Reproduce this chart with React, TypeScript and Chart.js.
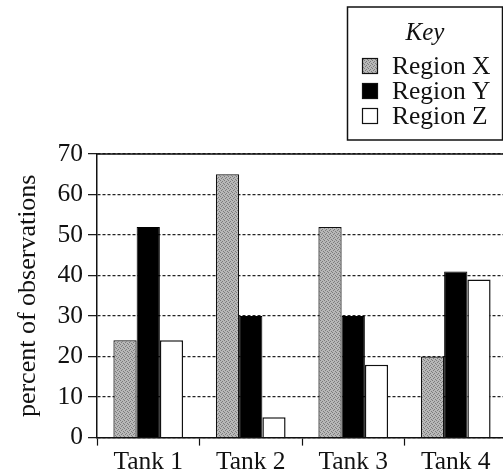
import React, { useEffect, useRef } from "react";
import { Chart, registerables } from "chart.js";

Chart.register(...registerables);

const categories = ["Tank 1", "Tank 2", "Tank 3", "Tank 4"];
const seriesNames = ["Region X", "Region Y", "Region Z"];
const regionX = [24, 65, 52, 20];
const regionY = [52, 30, 30, 41];
const regionZ = [24, 5, 18, 39];
const yMin = 0;
const yMax = 70;
const yStep = 10;
const legendTitle = "Key";
const yTitle = "percent of observations";

const FONT = '"Liberation Serif", "Times New Roman", serif';
const INK = "#111111";

function makeStipple(ctx: CanvasRenderingContext2D): CanvasPattern | string {
  const c = document.createElement("canvas");
  c.width = 4;
  c.height = 4;
  const g = c.getContext("2d");
  if (!g) return "#a8a8a8";
  g.fillStyle = "#b8b8b8";
  g.fillRect(0, 0, 4, 4);
  g.fillStyle = "#7c7c7c";
  const dots = [
    [0, 0],
    [2, 1],
    [1, 2],
    [3, 3],
  ];
  dots.forEach(([x, y]) => g.fillRect(x, y, 1, 1));
  return ctx.createPattern(c, "repeat") || "#a8a8a8";
}

const keyPlugin = {
  id: "keyBox",
  afterDraw(chart: any) {
    const ctx: CanvasRenderingContext2D = chart.ctx;
    const { left, right, top } = chart.chartArea;
    ctx.save();
    ctx.setLineDash([]);
    ctx.strokeStyle = INK;
    ctx.lineWidth = 1.5;
    // top frame line of plot
    ctx.beginPath();
    ctx.moveTo(left, top);
    ctx.lineTo(right, top);
    ctx.stroke();

    // key box
    const bx = 347.5;
    const by = 7;
    const bw = 155;
    const bh = 133;
    ctx.strokeRect(bx, by, bw, bh);

    ctx.fillStyle = INK;
    ctx.textBaseline = "middle";
    ctx.textAlign = "center";
    ctx.font = `italic 25px ${FONT}`;
    ctx.fillText(legendTitle, bx + bw / 2, by + 26);

    ctx.textAlign = "left";
    ctx.font = `25.5px ${FONT}`;
    const ds = chart.data.datasets;
    ds.forEach((d: any, i: number) => {
      const cy = by + 59 + i * 25;
      const sx = 362;
      const s = 16;
      ctx.fillStyle = d.backgroundColor;
      ctx.fillRect(sx, cy - s / 2, s, s);
      ctx.lineWidth = 1.2;
      ctx.strokeStyle = INK;
      ctx.strokeRect(sx + 0.5, cy - s / 2 + 0.5, s - 1, s - 1);
      ctx.fillStyle = INK;
      ctx.fillText(d.label, 392, cy + 1);
    });
    ctx.restore();
  },
};

export default function App() {
  const ref = useRef<HTMLCanvasElement>(null);

  useEffect(() => {
    const canvas = ref.current;
    if (!canvas) return;
    const ctx = canvas.getContext("2d");
    if (!ctx) return;
    const stipple = makeStipple(ctx);

    const chart = new Chart(canvas, {
      type: "bar",
      data: {
        labels: categories,
        datasets: [
          {
            label: seriesNames[0],
            data: regionX,
            backgroundColor: stipple as any,
            borderColor: INK,
            borderWidth: 1.2,
          },
          {
            label: seriesNames[1],
            data: regionY,
            backgroundColor: "#000000",
            borderColor: "#000000",
            borderWidth: 1,
          },
          {
            label: seriesNames[2],
            data: regionZ,
            backgroundColor: "#ffffff",
            borderColor: INK,
            borderWidth: 1.5,
          },
        ],
      },
      options: {
        responsive: false,
        animation: false,
        devicePixelRatio: 1,
        categoryPercentage: 0.68,
        barPercentage: 1,
        layout: { padding: { top: 154, right: 13, bottom: 0, left: 0 } },
        plugins: {
          legend: { display: false },
          tooltip: { enabled: false },
          title: { display: false },
        },
        scales: {
          x: {
            afterFit: (s: any) => {
              s.height = 36.4;
            },
            grid: {
              display: true,
              drawOnChartArea: false,
              offset: true,
              tickLength: 8,
              color: INK,
              tickColor: INK,
              tickWidth: 1.2,
              tickBorderDash: [],
            },
            border: { display: true, color: INK, width: 1.5 },
            ticks: {
              color: INK,
              padding: 1.5,
              font: { family: FONT, size: 25.5 },
              maxRotation: 0,
            },
          },
          y: {
            min: yMin,
            max: yMax,
            afterFit: (s: any) => {
              s.width = 97;
            },
            grid: {
              display: true,
              drawOnChartArea: true,
              tickLength: 9,
              color: "#222222",
              lineWidth: 1.3,
              tickColor: INK,
              tickWidth: 1.2,
              tickBorderDash: [],
            },
            border: { display: true, color: INK, width: 1.5, dash: [3, 2] },
            ticks: {
              stepSize: yStep,
              color: INK,
              padding: 5,
              font: { family: FONT, size: 25.5 },
            },
            title: {
              display: true,
              text: yTitle,
              color: INK,
              font: { family: FONT, size: 26 },
              padding: { top: 13, bottom: 0 },
            },
          },
        },
      },
      plugins: [keyPlugin],
    });
    return () => chart.destroy();
  }, []);

  return (
    <div
      style={{
        position: "fixed",
        left: 0,
        top: 0,
        width: 503,
        height: 474,
        overflow: "hidden",
        background: "#ffffff",
      }}
    >
      <canvas ref={ref} width={520} height={474} style={{ display: "block" }} />
    </div>
  );
}
